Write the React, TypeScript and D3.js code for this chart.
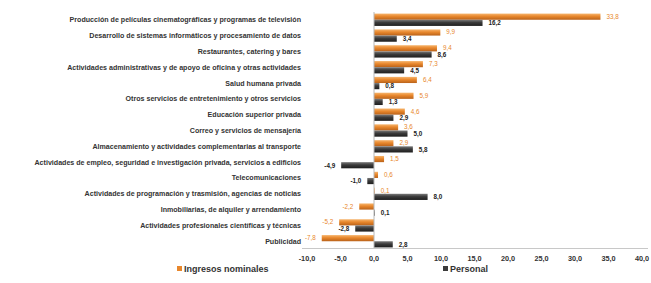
import React from 'react';
import * as d3 from 'd3';

// categorías y valores
const categories = [
  'Producción de películas cinematográficas y programas de televisión',
  'Desarrollo de sistemas informáticos y procesamiento de datos',
  'Restaurantes, catering y bares',
  'Actividades administrativas y de apoyo de oficina y otras actividades',
  'Salud humana privada',
  'Otros servicios de entretenimiento y otros servicios',
  'Educación superior privada',
  'Correo y servicios de mensajería',
  'Almacenamiento y actividades complementarias al transporte',
  'Actividades de empleo, seguridad e investigación privada, servicios a edificios',
  'Telecomunicaciones',
  'Actividades de programación y trasmisión, agencias de noticias',
  'Inmobiliarias, de alquiler y arrendamiento',
  'Actividades profesionales científicas y técnicas',
  'Publicidad',
];
const ingresos = [33.8, 9.9, 9.4, 7.3, 6.4, 5.9, 4.6, 3.6, 2.9, 1.5, 0.6, 0.1, -2.2, -5.2, -7.8];
const personal = [16.2, 3.4, 8.6, 4.5, 0.8, 1.3, 2.9, 5.0, 5.8, -4.9, -1.0, 8.0, 0.1, -2.8, 2.8];
const xTicks = [-10, -5, 0, 5, 10, 15, 20, 25, 30, 35, 40];

const W = 651;
const H = 283;
const ORANGE = '#e8872c';
const DARK = '#3b3b3b';

const fmt = (v: number) => v.toFixed(1).replace('.', ',');

export default function App() {
  const x = d3.scaleLinear().domain([-10, 40]).range([307, 642]);
  const y = d3.scaleBand<string>().domain(categories).range([12, 249]).paddingInner(0.22).paddingOuter(0.1);
  const barH = y.bandwidth() / 2;
  const x0 = x(0);

  return (
    <svg width={W} height={H} style={{ position: 'absolute', left: 0, top: 0, background: '#fff' }}
      fontFamily="'Liberation Sans', Arial, sans-serif">
      <defs>
        <linearGradient id="gOr" x1="0" y1="0" x2="0" y2="1">
          <stop offset="0" stopColor="#f6b56e" />
          <stop offset="0.45" stopColor={ORANGE} />
          <stop offset="1" stopColor="#b9621a" />
        </linearGradient>
        <linearGradient id="gDk" x1="0" y1="0" x2="0" y2="1">
          <stop offset="0" stopColor="#7a7a7a" />
          <stop offset="0.45" stopColor={DARK} />
          <stop offset="1" stopColor="#1e1e1e" />
        </linearGradient>
      </defs>

      {/* eje x */}
      <line x1={302} x2={648} y1={248.5} y2={248.5} stroke="#c8c8c8" strokeWidth={1} />
      {xTicks.map(t => (
        <text key={t} x={x(t)} y={260.5} fontSize={7.3} fontWeight="bold" fill="#333" textAnchor="middle">
          {fmt(t)}
        </text>
      ))}

      {/* barras */}
      {categories.map((c, i) => {
        const yb = y(c)!;
        const vi = ingresos[i];
        const vp = personal[i];
        return (
          <g key={c}>
            <text x={301} y={yb + barH + 2.5} fontSize={7.1} fontWeight="bold" fill="#333" textAnchor="end">
              {c}
            </text>
            <rect x={Math.min(x0, x(vi))} y={yb} width={Math.abs(x(vi) - x0)} height={barH}
              fill="url(#gOr)" />
            <rect x={Math.min(x0, x(vp))} y={yb + barH} width={Math.abs(x(vp) - x0)} height={barH}
              fill="url(#gDk)" />
            <text x={vi >= 0 ? x(vi) + 6 : x(vi) - 6} y={yb + barH / 2 + 2} fontSize={6.3}
              fill={ORANGE} textAnchor={vi >= 0 ? 'start' : 'end'}>
              {fmt(vi)}
            </text>
            <text x={vp >= 0 ? x(vp) + 6 : x(vp) - 6} y={yb + barH * 1.5 + 2.3} fontSize={6.3}
              fontWeight="bold" fill="#222" textAnchor={vp >= 0 ? 'start' : 'end'}>
              {fmt(vp)}
            </text>
          </g>
        );
      })}

      {/* línea del cero */}
      <line x1={x0} x2={x0} y1={12} y2={248} stroke="#b8b8b8" strokeWidth={1} />

      {/* leyenda */}
      <rect x={177} y={266} width={5} height={5} fill={ORANGE} />
      <text x={184} y={272} fontSize={9} fontWeight="bold" fill="#333">Ingresos nominales</text>
      <rect x={443} y={266} width={5} height={5} fill={DARK} />
      <text x={450} y={272} fontSize={9} fontWeight="bold" fill="#333">Personal</text>
    </svg>
  );
}
